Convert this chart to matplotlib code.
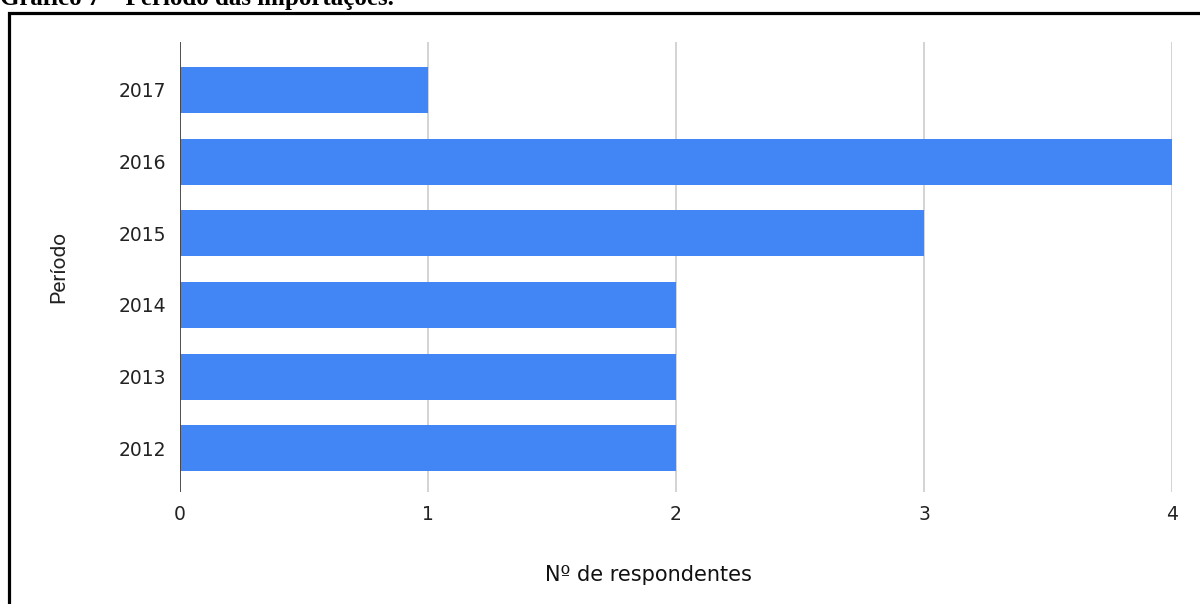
import matplotlib.pyplot as plt
from matplotlib.patches import Rectangle

periods = ['2012', '2013', '2014', '2015', '2016', '2017']
respondents = [2, 2, 2, 3, 4, 1]
x_ticks = [0, 1, 2, 3, 4]

fig = plt.figure(figsize=(12, 6.04), dpi=100)
ax = fig.add_axes([0.15, 0.1854, 0.8267, 0.7451])

ax.barh(range(len(periods)), respondents, height=0.64, color='#4285F4', zorder=3)

ax.set_xlim(0, 4)
ax.set_ylim(-0.61, 5.67)
ax.set_yticks(range(len(periods)))
ax.set_yticklabels(periods, fontsize=13.5, family='DejaVu Sans', color='#222222')
ax.set_xticks(x_ticks)
ax.set_xticklabels([str(t) for t in x_ticks], fontsize=13.5, family='DejaVu Sans', color='#222222')
ax.tick_params(axis='y', length=0, pad=10)
ax.tick_params(axis='x', length=0, pad=9)

for s in ax.spines.values():
    s.set_visible(False)
ax.grid(axis='x', color='#cccccc', linewidth=1.2, zorder=0)
ax.axvline(0, color='#444444', linewidth=1.3, zorder=4)

ax.set_xlabel('Nº de respondentes', fontsize=15, family='DejaVu Sans', color='#111111')
ax.xaxis.set_label_coords(0.472, -0.163)
ax.set_ylabel('Período', fontsize=15, family='Roboto', labelpad=36, color='#222222')

# moldura e título cortado
fig.patches.append(Rectangle((9 / 1200, -0.1), 1.1, 1 - 13 / 604 + 0.1, transform=fig.transFigure,
                             fill=False, edgecolor='black', linewidth=2.3))
fig.text(0.0, 1 - 5 / 604, 'Gráfico 7 – Período das importações.', family='Liberation Serif',
         fontweight='bold', fontsize=18, va='baseline', ha='left')

fig.savefig('out.png', dpi=100)
